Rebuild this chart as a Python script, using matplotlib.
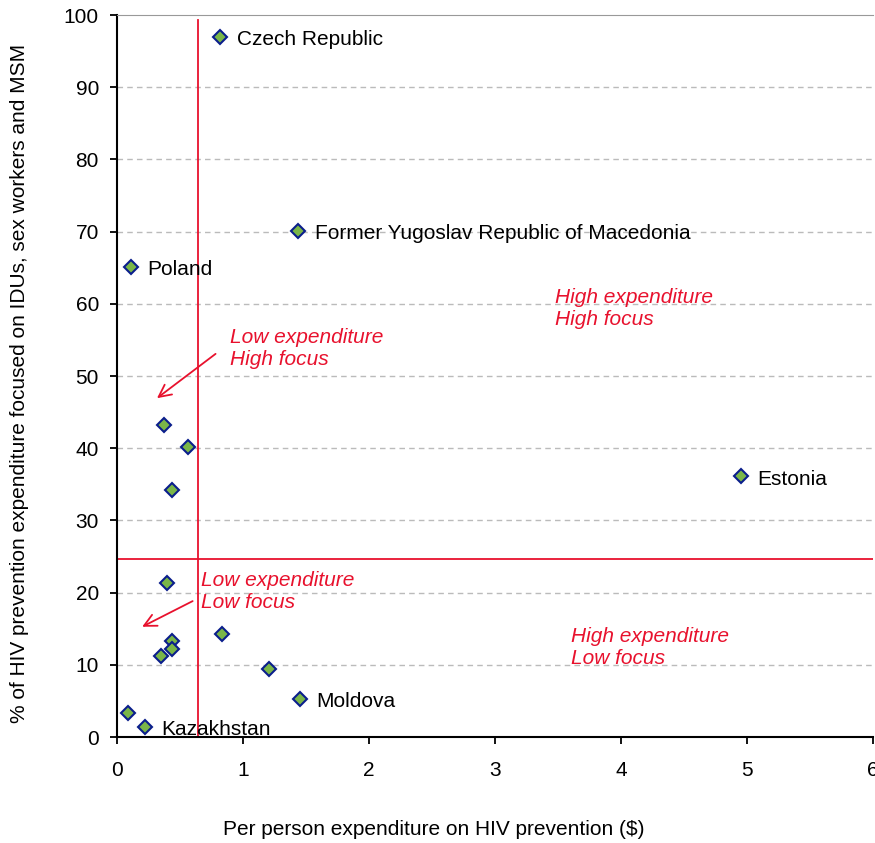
import matplotlib.pyplot as plt

plt.rcParams['font.family'] = ['Liberation Sans', 'DejaVu Sans']

# donnees
x_exp = [0.82, 1.44, 0.11, 0.37, 0.56, 0.44, 4.95, 0.40, 0.83, 0.44, 0.44, 0.35, 1.21, 1.45, 0.09, 0.22]
y_focus = [97.0, 70.1, 65.1, 43.2, 40.2, 34.2, 36.1, 21.3, 14.3, 13.3, 12.2, 11.2, 9.4, 5.3, 3.3, 1.4]
noms = ["Czech Republic", "Former Yugoslav Republic of Macedonia", "Poland", "", "", "", "Estonia",
        "", "", "", "", "", "", "Moldova", "", "Kazakhstan"]

seuil_x = 0.64
seuil_y = 24.65
rouge = "#E8112D"
taille = 15

fig = plt.figure(figsize=(8.75, 8.43), dpi=100)
ax = fig.add_axes([0.1337, 0.1257, 0.864, 0.8565])

for v in range(10, 100, 10):
    ax.axhline(v, color="#BBBBBB", linestyle=(0, (4, 3)), linewidth=1, zorder=0)

ax.axvline(seuil_x, ymax=0.993, color=rouge, linewidth=1.3, zorder=1)
ax.axhline(seuil_y, color=rouge, linewidth=1.3, zorder=1)

ax.plot(x_exp, y_focus, linestyle="none", marker="D", markersize=7,
        markerfacecolor="#7AB648", markeredgecolor="#0A1E8C", markeredgewidth=1.5, zorder=3)

for xi, yi, n in zip(x_exp, y_focus, noms):
    if n:
        ax.annotate(n, (xi, yi), xytext=(12, -2), textcoords="offset points",
                    fontsize=taille, va="center", ha="left")

# textes des quadrants
ax.text(0.90, 53.8, "Low expenditure\nHigh focus", color=rouge, style="italic", fontsize=taille, va="center", linespacing=1.2)
ax.text(3.48, 59.4, "High expenditure\nHigh focus", color=rouge, style="italic", fontsize=taille, va="center", linespacing=1.2)
ax.text(0.67, 20.2, "Low expenditure\nLow focus", color=rouge, style="italic", fontsize=taille, va="center", linespacing=1.2)
ax.text(3.60, 12.4, "High expenditure\nLow focus", color=rouge, style="italic", fontsize=taille, va="center", linespacing=1.2)

ax.annotate("", xy=(0.30, 46.7), xytext=(0.80, 53.3),
            arrowprops=dict(arrowstyle="->", color=rouge, lw=1.3, mutation_scale=22))
ax.annotate("", xy=(0.18, 15.1), xytext=(0.62, 19.0),
            arrowprops=dict(arrowstyle="->", color=rouge, lw=1.3, mutation_scale=22))

ax.set_xlim(0, 6)
ax.set_ylim(0, 100)
ax.set_xticks(range(0, 7))
ax.set_yticks(range(0, 101, 10))
ax.tick_params(axis="both", labelsize=taille, direction="out", length=5, width=1.3, pad=8)
ax.tick_params(axis="x", pad=12)
ax.spines["top"].set_color("#999999")
ax.spines["right"].set_visible(False)
ax.spines["left"].set_linewidth(1.5)
ax.spines["bottom"].set_linewidth(1.5)

ax.set_xlabel("Per person expenditure on HIV prevention ($)", fontsize=taille)
ax.set_ylabel("% of HIV prevention expenditure focused on IDUs, sex workers and MSM", fontsize=taille)
ax.xaxis.set_label_coords(0.419, -0.115)
ax.yaxis.set_label_coords(-0.117, 0.49)

plt.savefig("out.png", dpi=100)
